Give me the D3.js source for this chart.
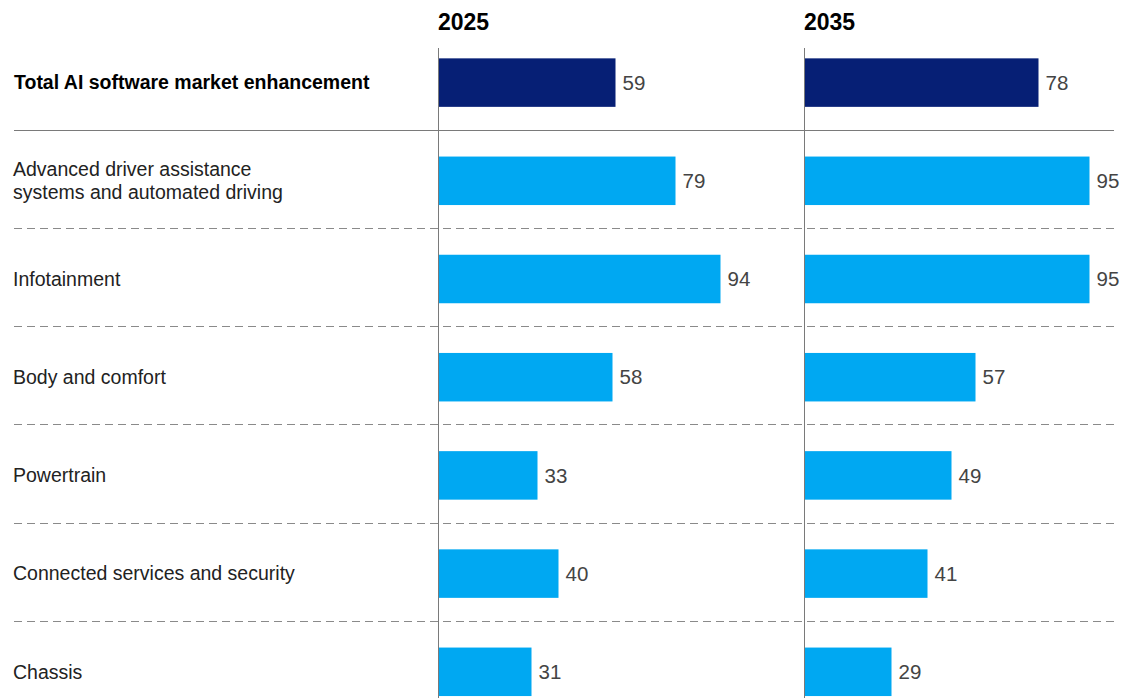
<!DOCTYPE html>
<html>
<head>
<meta charset="utf-8">
<script src="https://cdn.jsdelivr.net/npm/d3@7"></script>
<style>
  body { margin: 0; background: #fff; }
  svg { display: block; font-family: "Liberation Sans", Arial, sans-serif; }
</style>
</head>
<body>
<div id="container"></div>
<script>
// categories (first row is the total)
const categories = [
  "Total AI software market enhancement",
  "Advanced driver assistance\nsystems and automated driving",
  "Infotainment",
  "Body and comfort",
  "Powertrain",
  "Connected services and security",
  "Chassis"
];
const years = ["2025", "2035"];
const values2025 = [59, 79, 94, 58, 33, 40, 31];
const values2035 = [78, 95, 95, 57, 49, 41, 29];

// canvas
const w = 1122;
const h = 698;

const svg = d3.select("#container")
  .append("svg")
  .attr("width", w)
  .attr("height", h);

// rows
const yScale = d3.scaleBand()
  .domain(categories)
  .range([33.5, 33.5 + 7 * 98.2]);
const barH = 48.5;

// columns
const colLeft = [438.5, 804.5];
const xScales = colLeft.map(x0 => d3.scaleLinear().domain([0, 100]).range([x0, x0 + 300]));

// separators
categories.slice(1).forEach(function(c, i) {
  const y = Math.round(yScale(c)) + 0.5 - 2;
  svg.append("line")
     .attr("x1", 14).attr("x2", 1114)
     .attr("y1", y).attr("y2", y)
     .attr("stroke", i === 0 ? "#7a7a7a" : "#8a8a8a")
     .attr("stroke-width", 1)
     .attr("stroke-dasharray", i === 0 ? null : "8,5");
});

// axis lines
colLeft.forEach(function(x) {
  svg.append("line")
     .attr("x1", x).attr("x2", x)
     .attr("y1", 48).attr("y2", h)
     .attr("stroke", "#7a7a7a")
     .attr("stroke-width", 1);
});

// column headers
years.forEach(function(yr, i) {
  svg.append("text")
     .attr("x", colLeft[i] - 0.5)
     .attr("y", 30)
     .style("font-size", "23px")
     .style("font-weight", "bold")
     .attr("fill", "#000")
     .text(yr);
});

// category labels
categories.forEach(function(c, i) {
  const lines = c.split("\n");
  const cy = yScale(c) + yScale.bandwidth() / 2;
  const t = svg.append("text")
     .attr("x", i === 0 ? 14 : 13)
     .attr("y", cy - (lines.length - 1) * 11.5)
     .style("font-size", "19.5px")
     .style("font-weight", i === 0 ? "bold" : "normal")
     .attr("fill", i === 0 ? "#000" : "#222");
  lines.forEach(function(l, j) {
    t.append("tspan")
     .attr("x", i === 0 ? 14 : 13)
     .attr("dy", j === 0 ? "0.35em" : "23px")
     .text(l);
  });
});

// bars
[values2025, values2035].forEach(function(vals, k) {
  const x = xScales[k];
  const rows = categories.map((c, i) => ({ c: c, v: vals[i], i: i }));

  svg.selectAll(".bar" + k)
     .data(rows)
     .enter()
     .append("rect")
     .attr("x", x(0) + 0.5)
     .attr("y", d => yScale(d.c) + (yScale.bandwidth() - barH) / 2)
     .attr("width", d => x(d.v) - x(0) - 0.5)
     .attr("height", barH)
     .attr("fill", d => d.i === 0 ? "#061f75" : "#00a8f2");

  svg.selectAll(".val" + k)
     .data(rows)
     .enter()
     .append("text")
     .attr("x", d => x(d.v) + 7)
     .attr("y", d => yScale(d.c) + yScale.bandwidth() / 2)
     .attr("dy", "0.35em")
     .style("font-size", "20.5px")
     .attr("fill", "#444")
     .text(d => d.v);
});
</script>
</body>
</html>
